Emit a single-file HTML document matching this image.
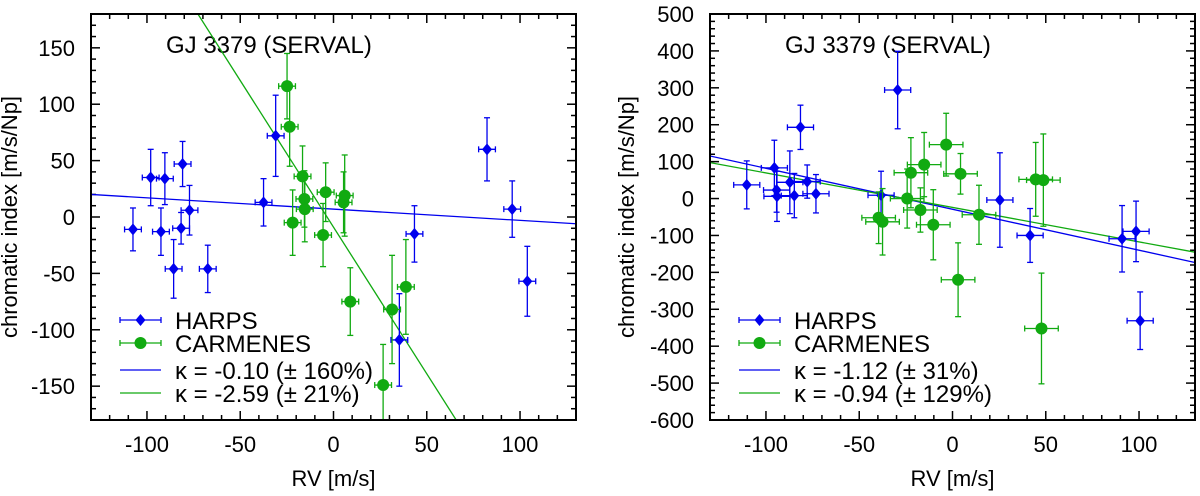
<!DOCTYPE html>
<html><head><meta charset="utf-8"><style>
html,body{margin:0;padding:0;background:#fff;overflow:hidden;width:1200px;height:496px;}
svg{display:block;}
svg text{font-family:"Liberation Sans",sans-serif;fill:#000;}
</style></head><body>
<svg id="chart" width="1200" height="496" xmlns="http://www.w3.org/2000/svg"></svg>
<script>
// ---- Left panel data ----
const leftHarpsX = [-107.5,-98,-90.4,-92.5,-85.7,-81.7,-80.9,-77.2,-67.4,-37.5,-31,35.3,43.4,82.3,95.8,103.9];
const leftHarpsY = [-11,35,34,-13,-46,-10,47,6,-46,13,72,-109,-15,60,7,-57];
const leftHarpsErr = [19,25,23,21,26,14,20,22,21,21,36,41,25,28,25,31];
const leftCarmX = [-24.9,-23.5,-16.6,-21.9,-15.6,-15.4,-4.2,-5.6,5.4,6,9,31.4,38.8,26.6];
const leftCarmY = [116,80,36,-5,16,7,22,-16,13,19,-75,-82,-62,-149];
const leftCarmErr = [29,35,27,29,25,29,26,28,27,36,30,48,42,36];
const leftFitSlope = [-0.10,-2.6];
const leftFitIntercept = [7,-9];
const leftYTicks = [150,100,50,0,-50,-100,-150];
// ---- Right panel data ----
const rightHarpsX = [-110.3,-95.5,-94.3,-94.1,-87.2,-84.8,-81.5,-77.9,-73.2,-38.3,-29.4,25.4,41.6,90.9,98.4,100.6];
const rightHarpsY = [37,83,23,6,44,8,193,46,13,9,294,-4,-100,-109,-89,-331];
const rightHarpsErr = [65,75,60,68,85,60,60,45,52,65,105,128,73,90,82,78];
const rightCarmX = [-39.6,-37.5,-24.3,-22.3,-17.2,-15.2,-10.3,-3.4,4.3,14.2,3,44.6,48.7,47.7];
const rightCarmY = [-52,-63,0,70,-31,92,-71,146,67,-44,-220,52,50,-352];
const rightCarmErr = [70,90,80,95,60,87,95,85,55,80,100,100,125,150];
const rightFitSlope = [-1.11,-0.934];
const rightFitIntercept = [-29,-24];
const rightYTicks = [500,400,300,200,100,0,-100,-200,-300,-400,-500,-600];
const xTicks = [-100,-50,0,50,100];

const NS="http://www.w3.org/2000/svg";
const svg=document.getElementById('chart');
function mk(tag,attrs,parent){const e=document.createElementNS(NS,tag);for(const k in attrs)e.setAttribute(k,attrs[k]);(parent||svg).appendChild(e);return e;}
const BLUE="#0000ee", GREEN="#11aa11";

function panel(p){
  const g=mk('g',{});
  
  
  const L=p.x0,R=p.x0+485,T=14,B=420;
  const sx=v=>L+(v+130)/260*(R-L);
  const sy=v=>T+(p.ymax-v)/(p.ymax-p.ymin)*(B-T);
  const clip='clip'+p.name;
  const cp=mk('clipPath',{id:clip},g);mk('rect',{x:L,y:T,width:R-L,height:B-T},cp);
  for(let v=-130;v<=130;v+=10){const x=sx(v);const maj=v%50===0;const len=maj?9:5;
    mk('line',{x1:x,y1:B,x2:x,y2:B-len,stroke:'#000','stroke-width':1.5},g);
    mk('line',{x1:x,y1:T,x2:x,y2:T+len,stroke:'#000','stroke-width':1.5},g);}
  for(let v=p.ymin;v<=p.ymax;v+=p.minor){const y=sy(v);const maj=v%p.major===0;const len=maj?9:5;
    mk('line',{x1:L,y1:y,x2:L+len,y2:y,stroke:'#000','stroke-width':1.5},g);
    mk('line',{x1:R,y1:y,x2:R-len,y2:y,stroke:'#000','stroke-width':1.5},g);}
  xTicks.forEach(v=>{const t=mk('text',{x:sx(v),y:452,'font-size':22,'text-anchor':'middle'},g);t.textContent=v;
    });
  p.yTicks.forEach(v=>{const t=mk('text',{x:L-16,y:sy(v)+8,'font-size':22,'text-anchor':'end'},g);t.textContent=v;
    });
  const xt=mk('text',{x:(L+R)/2,y:486,'font-size':22,'text-anchor':'middle'},g);xt.textContent='RV [m/s]';
  
  const yt=mk('text',{x:0,y:0,'font-size':22,'text-anchor':'middle',transform:`translate(${p.ytx},${(T+B)/2}) rotate(-90)`},g);yt.textContent='chromatic index [m/s/Np]';
  
  const tt=mk('text',{x:L+75,y:53,'font-size':24},g);tt.textContent='GJ 3379 (SERVAL)';
  
  const cg=mk('g',{'clip-path':`url(#${clip})`},g);
  const cols=[BLUE,GREEN];
  for(let i=0;i<2;i++){const f=x=>p.slope[i]*x+p.icpt[i];
    const ln=mk('line',{x1:sx(-130),y1:sy(f(-130)),x2:sx(130),y2:sy(f(130)),stroke:cols[i],'stroke-width':1.3},cg);
    }
  function series(X,Y,E,col,xe,shape,name){
    X.forEach((xv,i)=>{const pg=mk('g',{},cg);
      
      const cx=sx(xv),cy=sy(Y[i]),y1=sy(Y[i]+E[i]),y2=sy(Y[i]-E[i]),x1=sx(xv-xe),x2=sx(xv+xe);
      mk('line',{x1:cx,y1:y1,x2:cx,y2:y2,stroke:col,'stroke-width':1.3},pg);
      mk('line',{x1:cx-3,y1:y1,x2:cx+3,y2:y1,stroke:col,'stroke-width':1.3},pg);
      mk('line',{x1:cx-3,y1:y2,x2:cx+3,y2:y2,stroke:col,'stroke-width':1.3},pg);
      mk('line',{x1:x1,y1:cy,x2:x2,y2:cy,stroke:col,'stroke-width':1.3},pg);
      mk('line',{x1:x1,y1:cy-3,x2:x1,y2:cy+3,stroke:col,'stroke-width':1.3},pg);
      mk('line',{x1:x2,y1:cy-3,x2:x2,y2:cy+3,stroke:col,'stroke-width':1.3},pg);
      if(shape==='d')mk('path',{d:`M${cx},${cy-6}L${cx+5},${cy}L${cx},${cy+6}L${cx-5},${cy}Z`,fill:col},pg);
      else mk('circle',{cx:cx,cy:cy,r:6,fill:col},pg);
    });}
  series(p.hx,p.hy,p.he,BLUE,p.hxe,'d','harps-point');
  series(p.cx,p.cy,p.ce,GREEN,p.cxe,'c','carmenes-point');
  const lg=mk('g',{},g);
  const lx1=L+29,lx2=L+70,tx=L+84;
  const rows=[[320,BLUE,'d','HARPS'],[343,GREEN,'c','CARMENES'],[370,BLUE,null,p.k[0]],[393,GREEN,null,p.k[1]]];
  rows.forEach(r=>{const eg=mk('g',{},lg);
    mk('line',{x1:lx1,y1:r[0],x2:lx2,y2:r[0],stroke:r[1],'stroke-width':1.3},eg);
    const m=(lx1+lx2)/2;
    if(r[2]){mk('line',{x1:lx1,y1:r[0]-3,x2:lx1,y2:r[0]+3,stroke:r[1],'stroke-width':1.3},eg);
      mk('line',{x1:lx2,y1:r[0]-3,x2:lx2,y2:r[0]+3,stroke:r[1],'stroke-width':1.3},eg);
      if(r[2]==='d')mk('path',{d:`M${m},${r[0]-6}L${m+5},${r[0]}L${m},${r[0]+6}L${m-5},${r[0]}Z`,fill:r[1]},eg);
      else mk('circle',{cx:m,cy:r[0],r:6,fill:r[1]},eg);}
    const t=mk('text',{x:tx,y:r[0]+9,'font-size':24},eg);t.textContent=r[3];});
  mk('rect',{x:L,y:T,width:R-L,height:B-T,fill:'none',stroke:'#000','stroke-width':2},g);
}
panel({name:'left-panel',x0:91,ymin:-180,ymax:180,minor:10,major:50,yTicks:leftYTicks,ytx:17,
  hx:leftHarpsX,hy:leftHarpsY,he:leftHarpsErr,hxe:4.5,cx:leftCarmX,cy:leftCarmY,ce:leftCarmErr,cxe:4.5,
  slope:leftFitSlope,icpt:leftFitIntercept,k:['κ = -0.10 (± 160%)','κ = -2.59 (± 21%)']});
panel({name:'right-panel',x0:710,ymin:-600,ymax:500,minor:20,major:100,yTicks:rightYTicks,ytx:634,
  hx:rightHarpsX,hy:rightHarpsY,he:rightHarpsErr,hxe:7,cx:rightCarmX,cy:rightCarmY,ce:rightCarmErr,cxe:9,
  slope:rightFitSlope,icpt:rightFitIntercept,k:['κ = -1.12 (± 31%)','κ = -0.94 (± 129%)']});
</script>
</body></html>
